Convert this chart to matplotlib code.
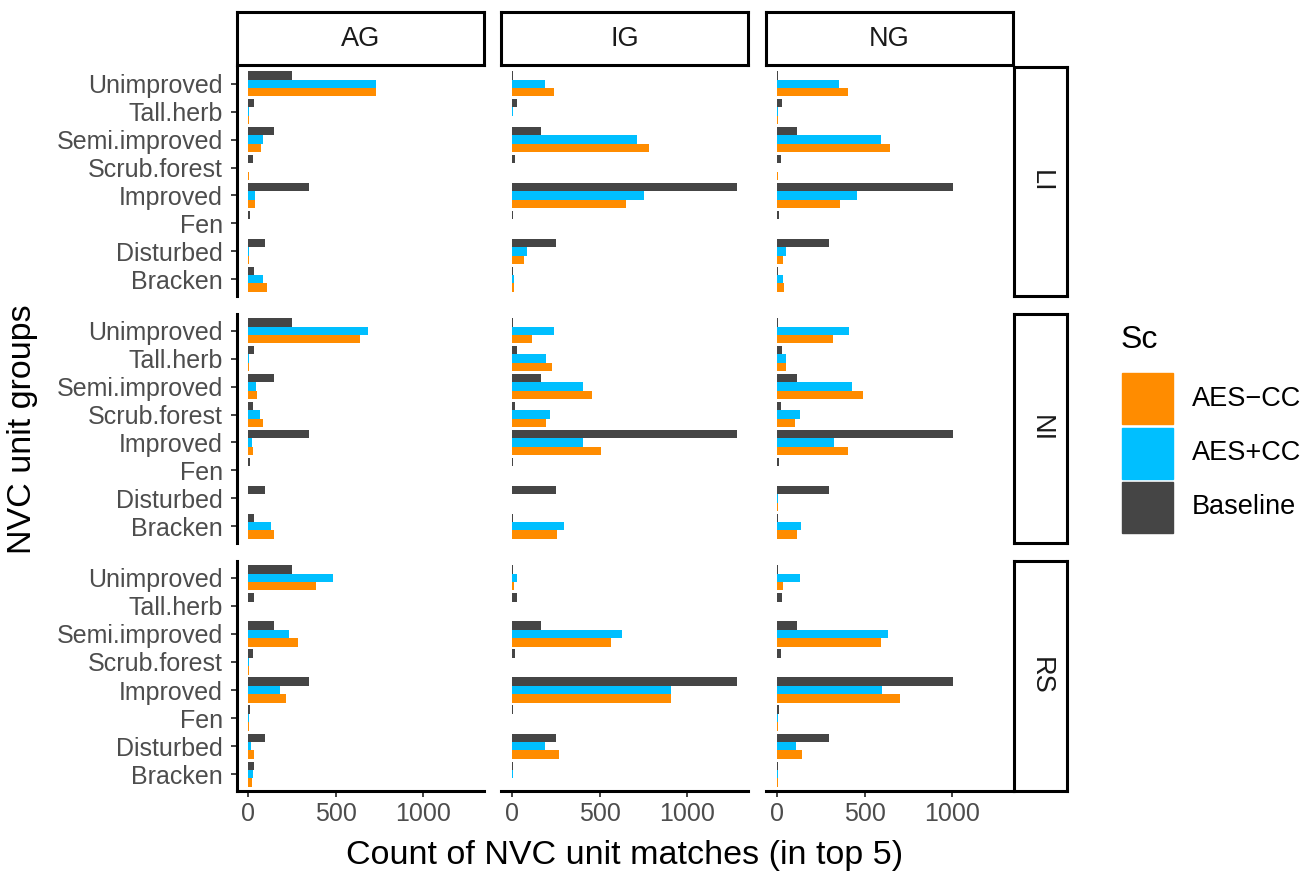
import matplotlib.pyplot as plt
from matplotlib.patches import Rectangle

plt.rcParams['font.family'] = ['Liberation Sans', 'DejaVu Sans']

# categories, listed top to bottom as shown
groups = ['Unimproved', 'Tall.herb', 'Semi.improved', 'Scrub.forest',
          'Improved', 'Fen', 'Disturbed', 'Bracken']
cols = ['AG', 'IG', 'NG']
rows = ['LI', 'NI', 'RS']
series = ['AES\u2212CC', 'AES+CC', 'Baseline']
colors = {'AES\u2212CC': '#FF8C00', 'AES+CC': '#00BFFF', 'Baseline': '#454545'}

# baseline is the same for every row
baseline = {
    'AG': [251, 34, 149, 29, 349, 12, 97, 34],
    'IG': [3, 29, 166, 17, 1286, 6, 251, 6],
    'NG': [3, 29, 114, 23, 1006, 11, 297, 3],
}

aes_plus = {
    'LI': {'AG': [731, 2, 86, 0, 40, 0, 2, 86],
           'IG': [189, 3, 714, 0, 754, 0, 86, 11],
           'NG': [354, 6, 594, 0, 457, 0, 51, 34]},
    'NI': {'AG': [686, 2, 46, 69, 23, 0, 0, 131],
           'IG': [240, 194, 406, 217, 406, 0, 0, 297],
           'NG': [411, 51, 429, 131, 326, 0, 6, 137]},
    'RS': {'AG': [486, 0, 234, 2, 183, 2, 17, 29],
           'IG': [29, 0, 629, 0, 909, 0, 189, 6],
           'NG': [131, 0, 634, 0, 600, 6, 109, 6]},
}

aes_minus = {
    'LI': {'AG': [731, 2, 74, 2, 40, 0, 2, 109],
           'IG': [240, 0, 783, 0, 651, 0, 69, 11],
           'NG': [406, 6, 646, 3, 360, 0, 34, 40]},
    'NI': {'AG': [640, 2, 51, 86, 29, 0, 0, 149],
           'IG': [114, 229, 457, 194, 509, 0, 0, 257],
           'NG': [320, 51, 491, 103, 406, 0, 6, 114]},
    'RS': {'AG': [389, 0, 286, 2, 217, 2, 34, 23],
           'IG': [11, 0, 566, 0, 909, 0, 269, 0],
           'NG': [34, 0, 594, 0, 703, 6, 143, 6]},
}

W, H = 1307, 871
fig = plt.figure(figsize=(W / 100, H / 100), dpi=100)


def box(x0, y0, x1, y1):
    return [x0 / W, 1 - y1 / H, (x1 - x0) / W, (y1 - y0) / H]


col_px = [(237, 484), (501, 748), (766, 1013)]
row_px = [(67, 296), (314, 543), (561, 791)]
tick_col = '#4D4D4D'
n = len(groups)
ypos = [n - 1 - i for i in range(n)]
bh = 0.3

xmax = max(max(v) for v in baseline.values())
for r, row in enumerate(rows):
    for c, col in enumerate(cols):
        ax = fig.add_axes(box(col_px[c][0], row_px[r][0], col_px[c][1], row_px[r][1]))
        ax.barh([y + bh for y in ypos], baseline[col], height=bh,
                color=colors['Baseline'])
        ax.barh(ypos, aes_plus[row][col], height=bh, color=colors['AES+CC'])
        ax.barh([y - bh for y in ypos], aes_minus[row][col], height=bh,
                color=colors['AES\u2212CC'])
        ax.set_xlim(-0.05 * xmax, 1.05 * xmax)
        ax.set_ylim(-0.6, n - 0.4)
        for s in ['top', 'right']:
            ax.spines[s].set_visible(False)
        ax.spines['left'].set_visible(c == 0)
        ax.spines['bottom'].set_visible(r == len(rows) - 1)
        for s in ['left', 'bottom']:
            ax.spines[s].set_linewidth(2.2)
        ax.tick_params(colors='#333333', labelcolor=tick_col, labelsize=18,
                       length=4.5, width=1.3)
        ax.tick_params(axis='y', pad=5.5)
        ax.tick_params(axis='x', pad=3.5)
        if c == 0:
            ax.set_yticks(ypos)
            ax.set_yticklabels(groups)
        else:
            ax.set_yticks([])
        if r == len(rows) - 1:
            ax.set_xticks([0, 500, 1000])
        else:
            ax.set_xticks([])

# column strips
for c, col in enumerate(cols):
    sa = fig.add_axes(box(col_px[c][0], 12, col_px[c][1], 65))
    sa.set_xticks([])
    sa.set_yticks([])
    for s in sa.spines.values():
        s.set_linewidth(2.2)
    sa.text(0.5, 0.5, col, ha='center', va='center', fontsize=19.5,
            color='#1A1A1A', transform=sa.transAxes)

# row strips
for r, row in enumerate(rows):
    sa = fig.add_axes(box(1014, row_px[r][0], 1067, row_px[r][1]))
    sa.set_xticks([])
    sa.set_yticks([])
    for s in sa.spines.values():
        s.set_linewidth(2.2)
    sa.text(0.5, 0.5, row, ha='center', va='center', fontsize=19.5,
            rotation=270, color='#1A1A1A', transform=sa.transAxes)

fig.text(625 / W, 1 - 855 / H, 'Count of NVC unit matches (in top 5)',
         ha='center', va='center', fontsize=24.5)
fig.text(23 / W, 1 - 429 / H, 'NVC unit groups', ha='center', va='center',
         rotation=90, fontsize=24.5)

# legend
fig.text(1121 / W, 1 - 340 / H, 'Sc', ha='left', va='center', fontsize=23)
for i, name in enumerate(series):
    y0 = 373 + i * 54.5
    fig.patches.append(Rectangle((1122 / W, 1 - (y0 + 51) / H), 51 / W, 51 / H,
                                 transform=fig.transFigure,
                                 color=colors[name]))
    fig.text(1192 / W, 1 - (y0 + 25.5) / H, name, ha='left', va='center',
             fontsize=19.5)

fig.savefig('out.png', dpi=100)
